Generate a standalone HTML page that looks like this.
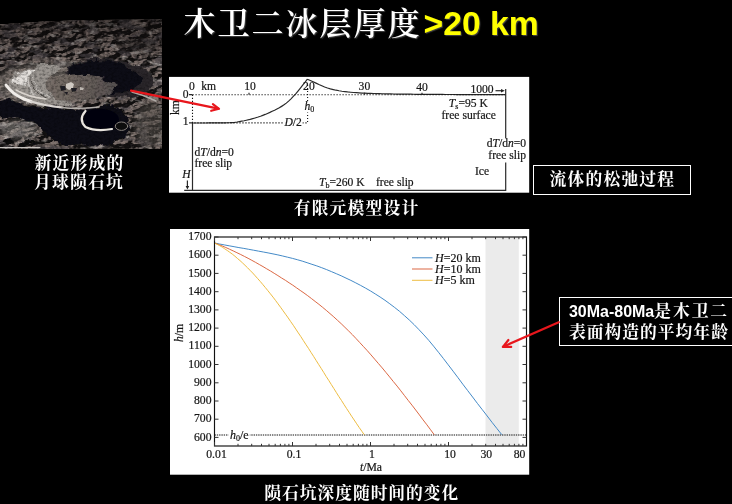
<!DOCTYPE html>
<html lang="zh"><head><meta charset="utf-8"><title>木卫二冰层厚度</title>
<style>
html,body{margin:0;padding:0;background:#000;}
body{width:732px;height:504px;position:relative;overflow:hidden;font-family:"Liberation Serif","Noto Serif CJK SC",serif;color:#fff;}
.abs{position:absolute;}
.cj{font-family:"Liberation Sans","Noto Serif CJK SC",serif;font-weight:700;color:#fff;white-space:nowrap;}
#title{left:183.5px;top:1.7px;font-size:32px;letter-spacing:2px;line-height:42px;white-space:nowrap;font-family:"Liberation Sans","Noto Serif CJK SC",serif;font-weight:600;text-shadow:1px 1px 1px #444;}
#title b{color:#ffff00;font-family:"Liberation Sans",sans-serif;font-weight:700;font-size:33.7px;margin-left:2px;letter-spacing:0;}
.cap{font-size:16.8px;letter-spacing:1.2px;text-indent:1.2px;line-height:19.5px;text-align:center;}
.box{border:1px solid #fff;box-sizing:border-box;}
svg text{font-family:"Liberation Serif",serif;fill:#151515;stroke:#151515;stroke-width:0.2px;}
</style></head><body>

<!-- moon photo -->
<svg class="abs" style="left:0;top:0" width="163" height="150" viewBox="0 0 163 150">
<defs>
<filter id="nzd" x="0" y="0" width="100%" height="100%">
<feTurbulence type="fractalNoise" baseFrequency="0.06 0.13" numOctaves="3" seed="7"/>
<feColorMatrix type="matrix" values="0 0 0 0 0.09  0 0 0 0 0.08  0 0 0 0 0.09  9 0 0 0 -4.75"/>
</filter>
<filter id="nzl" x="0" y="0" width="100%" height="100%">
<feTurbulence type="fractalNoise" baseFrequency="0.09 0.18" numOctaves="3" seed="23"/>
<feColorMatrix type="matrix" values="0 0 0 0 0.64  0 0 0 0 0.60  0 0 0 0 0.57  0 7 0 0 -4.2"/>
</filter>
<filter id="nzf" x="0" y="0" width="100%" height="100%">
<feTurbulence type="fractalNoise" baseFrequency="0.35 0.5" numOctaves="2" seed="5"/>
<feColorMatrix type="matrix" values="0 0 0 0 0  0 0 0 0 0  0 0 0 0 0  0 0 2.4 0 -1.0"/>
</filter>
<filter id="ter" x="0" y="0" width="100%" height="100%" color-interpolation-filters="sRGB">
<feTurbulence type="fractalNoise" baseFrequency="0.065 0.15" numOctaves="5" seed="4" result="n"/>
<feDiffuseLighting in="n" surfaceScale="16" diffuseConstant="1.05" lighting-color="#8f817b"><feDistantLight azimuth="215" elevation="38"/></feDiffuseLighting>
</filter>
<filter id="dsp" x="-5%" y="-5%" width="110%" height="110%">
<feTurbulence type="fractalNoise" baseFrequency="0.08 0.12" numOctaves="3" seed="11" result="n"/>
<feDisplacementMap in="SourceGraphic" in2="n" scale="9" xChannelSelector="R" yChannelSelector="G"/>
<feGaussianBlur stdDeviation="0.7"/>
</filter>
<filter id="b3"><feGaussianBlur stdDeviation="3"/></filter>
<filter id="b2"><feGaussianBlur stdDeviation="1.8"/></filter>
<filter id="b1"><feGaussianBlur stdDeviation="0.9"/></filter>
<filter id="b05"><feGaussianBlur stdDeviation="0.5"/></filter>
<clipPath id="mc"><path d="M0,24.5 Q45,20.5 90,20 T162,19.5 V148.7 H0Z"/></clipPath>
<linearGradient id="flg" x1="0" y1="0" x2="1" y2="0"><stop offset="0" stop-color="#7a726c"/><stop offset=".5" stop-color="#6e655f"/><stop offset="1" stop-color="#565050"/></linearGradient>
<linearGradient id="tg" x1="0" y1="0" x2="0" y2="1"><stop offset="0" stop-color="#0c0808" stop-opacity=".45"/><stop offset="1" stop-color="#0c0808" stop-opacity="0"/></linearGradient>
<linearGradient id="hz" x1="0" y1="0" x2="0" y2="1"><stop offset="0" stop-color="#2a2524"/><stop offset="1" stop-color="#5a5350"/></linearGradient>
</defs>
<g clip-path="url(#mc)">
<rect x="0" y="12" width="162" height="137" fill="#605855"/>
<rect x="0" y="18" width="162" height="10" fill="url(#hz)"/>
<rect x="0" y="12" width="162" height="137" filter="url(#ter)" opacity=".8"/>
<rect x="0" y="12" width="162" height="137" filter="url(#nzd)" opacity=".6"/>
<rect x="0" y="12" width="162" height="137" filter="url(#nzl)" opacity=".5"/>
<g filter="url(#b3)" opacity=".55">
<ellipse cx="50" cy="84" rx="55" ry="22" fill="#8d857e"/>
<ellipse cx="150" cy="125" rx="16" ry="24" fill="#5a5450"/>
<ellipse cx="9" cy="67" rx="8" ry="5" fill="#1a1818"/>
<ellipse cx="18" cy="130" rx="20" ry="9" fill="#9a9692"/>
<ellipse cx="140" cy="45" rx="22" ry="6" fill="#2a2626"/>
</g>
<rect x="0" y="18" width="162" height="50" fill="url(#tg)"/>
<g filter="url(#dsp)">
<path d="M33,106 L77,110 L117,105 Q133,116 127,134 Q116,148 64,147 Q44,136 34,120Z" fill="#0b0b12"/>
<path d="M0,101 L8,99 Q20,105 38,107 L42,124 Q30,121 16,117 L0,119Z" fill="#0e0f16"/>
<ellipse cx="8.5" cy="142.5" rx="5.5" ry="3.2" fill="#0c0c10"/><ellipse cx="28" cy="144" rx="9" ry="3" fill="#0c0c10"/>
<ellipse cx="110" cy="77.5" rx="45" ry="18.5" fill="#2b282c" transform="rotate(7 110 77)"/>
<ellipse cx="104" cy="76.5" rx="37" ry="16" fill="#111018" transform="rotate(7 104 76)"/>
<ellipse cx="74" cy="87.5" rx="41.5" ry="13" fill="url(#flg)" transform="rotate(-1 74 87.5)"/>
<path d="M6,85 Q12,71 32,67 Q48,63 62,66 Q48,75 46,86 Q50,98 76,106 Q44,109 24,101 Q11,95 6,85Z" fill="#9a9590"/>
<path d="M10,82 Q16,71 33,68.5 Q26,77 25,86Z" fill="#e4e0dc"/>
<path d="M26,80 Q25,90 40,97 M34,76 Q31,87 48,97" stroke="#c4c0bc" stroke-width="1.3" fill="none"/><path d="M30,78 Q28,88 44,97" stroke="#4a4644" stroke-width="1" fill="none"/>
</g>
<rect x="0" y="12" width="162" height="137" filter="url(#nzf)" opacity=".35"/>
<g filter="url(#b05)" fill="none" stroke-linecap="round">
<path d="M6,85 Q12,94 24,99 L31,101.5" stroke="#f0ece8" stroke-width="3"/>
<path d="M31,101.5 Q44,105.5 62,107.5" stroke="#d8d4d0" stroke-width="2"/>
<path d="M62,107.5 Q80,109.5 99,107" stroke="#b4b0ac" stroke-width="1.3"/>
<path d="M16,90 Q28,97 46,99" stroke="#d8d2cc" stroke-width="1.5"/>
<ellipse cx="100" cy="119.5" rx="19" ry="10.8" fill="#06060b" stroke="none"/>
<path d="M85.5,111 Q78,119.5 85.5,127 Q96,132 112,129" stroke="#e8e4de" stroke-width="2.2"/>
<ellipse cx="121.5" cy="126.2" rx="6.2" ry="4.2" fill="#08080d" stroke="#8a847e" stroke-width="1"/>
<path d="M66,84 l5,-2 l3,2 l-1,4 l-4,2 l-3,-2z" fill="#cfc9c2" stroke="none"/><path d="M80,87 l4,1 l-1,2 l-3,0z" fill="#bcb6b0" stroke="none"/>
<path d="M60,86 l5,0 l1,4 l-5,1z M71,88 l6,0 l-1,3 l-4,1z M64,92 l4,0 l-1,3z" fill="#1e1c20" stroke="none"/>
<path d="M132,92 Q144,95 156,101" stroke="#b0aaa6" stroke-width="1.5"/>
<path d="M0,147.6 H40" stroke="#c8c4c0" stroke-width="1.2"/>
</g>
</g>
</svg>

<div id="title" class="abs">木卫二冰层厚度<b>&gt;20 km</b></div>

<div class="abs cj cap" style="left:19px;top:153.5px;width:120px;">新近形成的<br>月球陨石坑</div>
<div class="abs cj cap" style="left:256px;top:198.5px;width:200px;">有限元模型设计</div>
<div class="abs cj cap" style="left:241.2px;top:484px;width:240px;letter-spacing:0.95px;">陨石坑深度随时间的变化</div>

<div class="abs box cj" style="left:533px;top:164.8px;width:157.6px;height:29.8px;font-size:16.8px;letter-spacing:1.2px;text-indent:1.2px;line-height:27.4px;text-align:center;">流体的松弛过程</div>
<div class="abs box cj" style="left:559.3px;top:296.6px;width:180px;height:49.8px;font-size:16.8px;letter-spacing:1.0px;line-height:21px;padding:3.2px 0 0 8.6px;"><span style="font-size:16px;letter-spacing:0">30Ma-80Ma</span><span style="letter-spacing:1.9px">是木卫二</span><br>表面构造的平均年龄</div>

<!-- model diagram -->
<svg class="abs" style="left:168px;top:76px" width="362" height="118" viewBox="168 76 362 118">
<rect x="169" y="76.9" width="360.2" height="115.8" fill="#fff"/>
<g fill="none" stroke="#2a2a2a" stroke-width="1.2">
<path d="M192.5,123 V190.4 M184.2,190.4 H505.7 V89"/>
<path d="M192.5,123.00 L194.8,123.00 L197.2,123.00 L199.5,122.99 L201.9,122.99 L204.2,122.99 L206.6,122.98 L208.9,122.97 L211.3,122.96 L213.6,122.96 L215.9,122.95 L218.3,122.93 L220.6,122.90 L223.0,122.87 L225.3,122.82 L227.7,122.76 L230.0,122.70 L232.4,122.56 L234.7,122.31 L237.1,121.98 L239.4,121.58 L241.7,121.16 L244.1,120.73 L246.4,120.25 L248.8,119.71 L251.1,119.11 L253.5,118.45 L255.8,117.76 L258.2,117.03 L260.5,116.23 L262.8,115.36 L265.2,114.43 L267.5,113.45 L269.9,112.41 L272.2,111.33 L274.6,110.21 L276.9,109.03 L279.3,107.76 L281.6,106.37 L284.0,104.85 L286.3,103.12 L288.6,101.09 L291.0,98.82 L293.3,96.41 L295.7,93.86 L298.0,91.03 L300.4,88.09 L302.7,85.17 L305.1,82.21 L307.4,79.20 M307.4,79.20 L310.3,80.46 L313.1,81.75 L316.0,83.10 L318.9,84.48 L321.8,85.75 L324.6,86.96 L327.5,87.97 L330.4,88.80 L333.3,89.55 L336.1,90.21 L339.0,90.77 L341.9,91.23 L344.8,91.62 L347.6,91.97 L350.5,92.26 L353.4,92.51 L356.3,92.71 L359.1,92.89 L362.0,93.04 L364.9,93.17 L367.8,93.28 L370.6,93.38 L373.5,93.48 L376.4,93.57 L379.2,93.66 L382.1,93.74 L385.0,93.81 L387.9,93.88 L390.7,93.94 L393.6,94.00 L396.5,94.05 L399.4,94.09 L402.2,94.13 L405.1,94.16 L408.0,94.19 L410.9,94.22 L413.7,94.25 L416.6,94.28 L419.5,94.30 L422.4,94.33 L425.2,94.35 L428.1,94.37 L431.0,94.39 L433.9,94.41 L436.7,94.43 L439.6,94.44 L442.5,94.46 L445.3,94.48 L448.2,94.49 L451.1,94.51 L454.0,94.52 L456.8,94.53 L459.7,94.55 L462.6,94.56 L465.5,94.57 L468.3,94.59 L471.2,94.60 L474.1,94.61 L477.0,94.62 L479.8,94.63 L482.7,94.64 L485.6,94.65 L488.5,94.66 L491.3,94.67 L494.2,94.68 L497.1,94.68 L500.0,94.69 L502.8,94.70 L505.7,94.70"/>
<path d="M192.5,94.8 H505 M192.5,94.8 V122.9 H307.6 V84" stroke="#111" stroke-width="1.1" stroke-dasharray="1.2 1.8"/>
<path d="M187.4,180.5 V187"/><path d="M185.6,186 L187.4,189.6 L189.2,186Z" fill="#222" stroke="none"/>
<path d="M495.5,90.7 H502"/><path d="M501,89 L504.8,90.7 L501,92.4Z" fill="#222" stroke="none"/>
<path d="M189,94.7 H192.5 M189,122.9 H192.5 M249,94.7 v-2 M364.5,94.7 v-2 M422,94.7 v-2"/>
</g>
<rect x="284" y="117" width="18.5" height="9" fill="#fff"/><rect x="486" y="138" width="40" height="24.5" fill="#fff"/><rect x="304" y="101" width="9" height="11.5" fill="#fff"/>
<g font-size="11.6px">
<text x="192" y="89.5" text-anchor="middle">0</text>
<text x="201.3" y="89.5">km</text>
<text x="250" y="90" text-anchor="middle">10</text>
<text x="308.9" y="90" text-anchor="middle">20</text>
<text x="364.4" y="90" text-anchor="middle">30</text>
<text x="422" y="90.5" text-anchor="middle">40</text>
<text x="482" y="93" text-anchor="middle">1000</text>
<text x="188.5" y="97.9" text-anchor="end">0</text>
<text x="188.5" y="124.6" text-anchor="end">1</text>
<text transform="translate(179.3,107.7) rotate(-90)" text-anchor="middle">km</text>
<text x="304.5" y="109.8"><tspan font-style="italic">h</tspan><tspan font-size="8px" dy="2">0</tspan></text>
<text x="284.4" y="125.5"><tspan font-style="italic">D</tspan>/2</text>
<text x="194.5" y="156">d<tspan font-style="italic">T</tspan>/d<tspan font-style="italic">n</tspan>=0</text>
<text x="194.5" y="166.5">free slip</text>
<text x="182.3" y="177.7" font-style="italic">H</text>
<text x="319" y="186.3"><tspan font-style="italic">T</tspan><tspan font-size="8px" dy="2">b</tspan><tspan dy="-2">=260 K</tspan></text>
<text x="376" y="186.3">free slip</text>
<text x="448.8" y="107"><tspan font-style="italic">T</tspan><tspan font-size="8px" dy="2">s</tspan><tspan dy="-2">=95 K</tspan></text>
<text x="441.5" y="119">free surface</text>
<text x="486.7" y="147.3">d<tspan font-style="italic">T</tspan>/d<tspan font-style="italic">n</tspan>=0</text>
<text x="488.3" y="158.8">free slip</text>
<text x="475" y="175.2">Ice</text>
</g>
</svg>

<!-- chart -->
<svg class="abs" style="left:170px;top:229px" width="360" height="246" viewBox="170 229 360 246">
<rect x="169.8" y="229" width="359.4" height="245.7" fill="#fff"/>
<rect x="485.5" y="237.0" width="33.3" height="209.0" fill="#ebebeb"/>
<path d="M214.5,435 H526.5" stroke="#111" stroke-width="1" stroke-dasharray="1.4 0.9" fill="none"/>
<rect x="228.3" y="429" width="21.5" height="12" fill="#fff"/>
<g fill="none" stroke-width="0.95">
<path d="M214.6,243.0 L219.5,244.0 L224.3,244.9 L229.2,245.8 L234.1,246.7 L238.9,247.6 L243.8,248.4 L248.7,249.3 L253.5,250.2 L258.4,251.1 L263.3,252.0 L268.1,252.9 L273.0,253.9 L277.9,254.9 L282.7,256.0 L287.6,257.2 L292.5,258.4 L297.3,259.7 L302.2,261.1 L307.1,262.7 L311.9,264.3 L316.8,265.9 L321.7,267.7 L326.6,269.6 L331.4,271.6 L336.3,273.7 L341.2,275.8 L346.0,278.1 L350.9,280.4 L355.8,282.9 L360.6,285.4 L365.5,288.1 L370.4,290.9 L375.2,293.9 L380.1,297.0 L385.0,300.3 L389.8,303.8 L394.7,307.5 L399.6,311.4 L404.4,315.6 L409.3,320.0 L414.2,324.7 L419.0,329.7 L423.9,334.9 L428.8,340.4 L433.6,346.2 L438.5,352.3 L443.4,358.5 L448.2,364.8 L453.1,371.2 L458.0,377.7 L462.8,384.2 L467.7,390.6 L472.6,397.0 L477.4,403.4 L482.3,409.7 L487.2,416.0 L492.0,422.3 L496.9,428.5 L501.8,434.7" stroke="#3a84c4"/>
<path d="M214.6,243.0 L218.3,244.4 L222.0,245.9 L225.8,247.5 L229.5,249.2 L233.2,250.9 L236.9,252.7 L240.7,254.5 L244.4,256.4 L248.1,258.3 L251.8,260.3 L255.6,262.4 L259.3,264.5 L263.0,266.6 L266.7,268.8 L270.5,271.0 L274.2,273.3 L277.9,275.6 L281.6,278.0 L285.4,280.3 L289.1,282.8 L292.8,285.2 L296.5,287.8 L300.2,290.4 L304.0,293.0 L307.7,295.7 L311.4,298.5 L315.1,301.4 L318.9,304.3 L322.6,307.3 L326.3,310.4 L330.0,313.6 L333.8,316.9 L337.5,320.3 L341.2,323.7 L344.9,327.3 L348.7,331.0 L352.4,334.7 L356.1,338.6 L359.8,342.6 L363.5,346.6 L367.3,350.7 L371.0,354.9 L374.7,359.2 L378.4,363.5 L382.2,367.9 L385.9,372.4 L389.6,376.9 L393.3,381.5 L397.1,386.1 L400.8,390.8 L404.5,395.6 L408.2,400.4 L412.0,405.2 L415.7,410.0 L419.4,414.9 L423.1,419.9 L426.9,424.8 L430.6,429.8 L434.3,434.8" stroke="#d9603a"/>
<path d="M214.6,243.0 L217.1,244.3 L219.7,245.7 L222.2,247.1 L224.7,248.8 L227.3,250.5 L229.8,252.3 L232.4,254.2 L234.9,256.2 L237.4,258.4 L240.0,260.6 L242.5,262.9 L245.0,265.3 L247.6,267.8 L250.1,270.4 L252.7,273.0 L255.2,275.8 L257.7,278.6 L260.3,281.5 L262.8,284.5 L265.3,287.5 L267.9,290.7 L270.4,293.8 L273.0,297.1 L275.5,300.4 L278.0,303.8 L280.6,307.3 L283.1,310.8 L285.6,314.3 L288.2,317.9 L290.7,321.6 L293.3,325.3 L295.8,329.1 L298.3,332.9 L300.9,336.7 L303.4,340.6 L305.9,344.5 L308.5,348.4 L311.0,352.4 L313.6,356.4 L316.1,360.4 L318.6,364.4 L321.2,368.4 L323.7,372.4 L326.2,376.5 L328.8,380.5 L331.3,384.5 L333.9,388.6 L336.4,392.6 L338.9,396.6 L341.5,400.5 L344.0,404.5 L346.5,408.4 L349.1,412.3 L351.6,416.2 L354.2,420.0 L356.7,423.8 L359.2,427.5 L361.8,431.2 L364.3,434.8" stroke="#ecb838"/>
<path d="M412,257.8 H432.5" stroke="#3a84c4"/>
<path d="M412,269 H432.5" stroke="#d9603a"/>
<path d="M412,280.3 H432.5" stroke="#ecb838"/>
</g>
<rect x="214.5" y="237.0" width="312.0" height="209.0" fill="none" stroke="#111" stroke-width="1.15"/>
<path d="M214.5,446.0 v-4 M214.5,237.0 v4 M238.0,446.0 v-2.2 M238.0,237.0 v2.2 M251.7,446.0 v-2.2 M251.7,237.0 v2.2 M261.5,446.0 v-2.2 M261.5,237.0 v2.2 M269.0,446.0 v-2.2 M269.0,237.0 v2.2 M275.2,446.0 v-2.2 M275.2,237.0 v2.2 M280.4,446.0 v-2.2 M280.4,237.0 v2.2 M284.9,446.0 v-2.2 M284.9,237.0 v2.2 M288.9,446.0 v-2.2 M288.9,237.0 v2.2 M292.5,446.0 v-4 M292.5,237.0 v4 M316.0,446.0 v-2.2 M316.0,237.0 v2.2 M329.7,446.0 v-2.2 M329.7,237.0 v2.2 M339.5,446.0 v-2.2 M339.5,237.0 v2.2 M347.0,446.0 v-2.2 M347.0,237.0 v2.2 M353.2,446.0 v-2.2 M353.2,237.0 v2.2 M358.4,446.0 v-2.2 M358.4,237.0 v2.2 M362.9,446.0 v-2.2 M362.9,237.0 v2.2 M366.9,446.0 v-2.2 M366.9,237.0 v2.2 M370.5,446.0 v-4 M370.5,237.0 v4 M394.0,446.0 v-2.2 M394.0,237.0 v2.2 M407.7,446.0 v-2.2 M407.7,237.0 v2.2 M417.5,446.0 v-2.2 M417.5,237.0 v2.2 M425.0,446.0 v-2.2 M425.0,237.0 v2.2 M431.2,446.0 v-2.2 M431.2,237.0 v2.2 M436.4,446.0 v-2.2 M436.4,237.0 v2.2 M440.9,446.0 v-2.2 M440.9,237.0 v2.2 M444.9,446.0 v-2.2 M444.9,237.0 v2.2 M448.5,446.0 v-4 M448.5,237.0 v4 M472.0,446.0 v-2.2 M472.0,237.0 v2.2 M485.7,446.0 v-2.2 M485.7,237.0 v2.2 M495.5,446.0 v-2.2 M495.5,237.0 v2.2 M503.0,446.0 v-2.2 M503.0,237.0 v2.2 M509.2,446.0 v-2.2 M509.2,237.0 v2.2 M514.4,446.0 v-2.2 M514.4,237.0 v2.2 M518.9,446.0 v-2.2 M518.9,237.0 v2.2 M522.9,446.0 v-2.2 M522.9,237.0 v2.2 M214.5,437.4 h4 M526.5,437.4 h-4 M214.5,419.2 h4 M526.5,419.2 h-4 M214.5,401.0 h4 M526.5,401.0 h-4 M214.5,382.8 h4 M526.5,382.8 h-4 M214.5,364.5 h4 M526.5,364.5 h-4 M214.5,346.3 h4 M526.5,346.3 h-4 M214.5,328.1 h4 M526.5,328.1 h-4 M214.5,309.9 h4 M526.5,309.9 h-4 M214.5,291.7 h4 M526.5,291.7 h-4 M214.5,273.4 h4 M526.5,273.4 h-4 M214.5,255.2 h4 M526.5,255.2 h-4 M214.5,237.0 h4 M526.5,237.0 h-4" stroke="#333" stroke-width="1" fill="none"/>
<g font-size="11.7px">
<text x="211.5" y="440.5" text-anchor="end">600</text><text x="211.5" y="422.3" text-anchor="end">700</text><text x="211.5" y="404.1" text-anchor="end">800</text><text x="211.5" y="385.9" text-anchor="end">900</text><text x="211.5" y="367.6" text-anchor="end">1000</text><text x="211.5" y="349.4" text-anchor="end">1100</text><text x="211.5" y="331.2" text-anchor="end">1200</text><text x="211.5" y="313.0" text-anchor="end">1300</text><text x="211.5" y="294.8" text-anchor="end">1400</text><text x="211.5" y="276.5" text-anchor="end">1500</text><text x="211.5" y="258.3" text-anchor="end">1600</text><text x="211.5" y="240.1" text-anchor="end">1700</text>
<text x="216.5" y="457.8" text-anchor="middle">0.01</text><text x="294.0" y="457.8" text-anchor="middle">0.1</text><text x="372.0" y="457.8" text-anchor="middle">1</text><text x="450.0" y="457.8" text-anchor="middle">10</text><text x="486.3" y="457.8" text-anchor="middle">30</text><text x="519.5" y="457.8" text-anchor="middle">80</text>
<text x="371" y="471" text-anchor="middle"><tspan font-style="italic">t</tspan>/Ma</text>
<text transform="translate(183,333) rotate(-90)" text-anchor="middle"><tspan font-style="italic">h</tspan>/m</text>
</g>
<g font-size="12px">
<text x="435" y="261.5"><tspan font-style="italic">H</tspan>=20 km</text>
<text x="435" y="272.8"><tspan font-style="italic">H</tspan>=10 km</text>
<text x="435" y="284"><tspan font-style="italic">H</tspan>=5 km</text>
<text x="230" y="439"><tspan font-style="italic">h</tspan><tspan font-size="8px" dy="2">0</tspan><tspan dy="-2">/e</tspan></text>
</g>
</svg>

<!-- red arrows -->
<svg class="abs" style="left:0;top:0" width="732" height="504" viewBox="0 0 732 504">
<g stroke="#e8161c" stroke-width="2.2" fill="none" stroke-linecap="round" stroke-linejoin="round">
<path d="M131,90.6 L218.4,108.6"/>
<path d="M212.9,104.2 L219,108.8 L211.2,110.8"/>
<path d="M558.7,322.2 L503.4,346.6"/>
<path d="M508.4,340 L502.9,346.9 L511.2,346.9"/>
</g>
</svg>
</body></html>
